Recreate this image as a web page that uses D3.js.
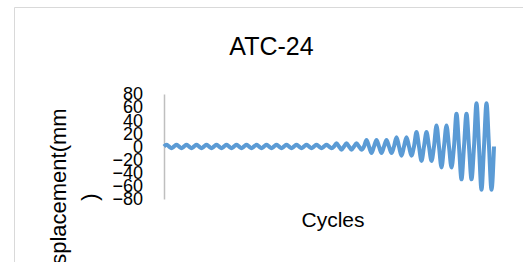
<!DOCTYPE html>
<meta charset="utf-8">
<head>
<style>
  body { margin: 0; background: #fff; }
  text { font-family: "Liberation Sans", Arial, sans-serif; fill: #000; }
</style>
</head>
<body>
<script src="https://d3js.org/d3.v7.min.js"></script>
<script>

// amplitude (mm) of each loading cycle
var cycleAmp = [2.5, 2.5, 2.5, 2.5, 2.5, 2.5, 2.5, 2.5, 2.5, 2.5, 2.5, 2.5, 2.5, 2.5, 2.5, 2.5, 2.5,
                5, 5, 5,
                10, 10, 10,
                14, 14,
                22, 22,
                32, 32,
                50, 50,
                66, 66];
var yTicks = [80, 60, 40, 20, 0, -20, -40, -60, -80];

var width = 523, height = 262;

var svg = d3.select("body").append("svg")
    .attr("width", width)
    .attr("height", height);

// chart area border (runs off the right and bottom)
svg.append("path")
    .attr("d", "M14.5," + height + "V7.5H" + width)
    .attr("fill", "none")
    .attr("stroke", "#d9d9d9")
    .attr("stroke-width", 1);

var x = d3.scaleLinear().domain([0, cycleAmp.length]).range([164, 494]);
var y = d3.scaleLinear().domain([-80, 80]).range([199, 94]);

// each cycle: zero, crest, zero, trough
var pts = [];
cycleAmp.forEach(function(a, i) {
  pts.push([i, 0], [i + 0.25, a], [i + 0.5, 0], [i + 0.75, -a]);
});
pts.push([cycleAmp.length, 0]);

var yAxis = d3.axisLeft(y).tickValues(yTicks).tickSize(0).tickPadding(21);

var gy = svg.append("g")
    .attr("transform", "translate(164,0)")
    .call(yAxis);
gy.select(".domain").attr("stroke", "#bfbfbf").attr("stroke-width", 1.5);
gy.selectAll("text")
    .style("font-family", "'Liberation Sans', Arial, sans-serif")
    .style("font-size", "18px")
    .attr("fill", "#000");

var line = d3.line()
    .x(function(d) { return x(d[0]); })
    .y(function(d) { return y(d[1]); })
    .curve(d3.curveMonotoneX);

svg.append("path")
    .datum(pts)
    .attr("d", line)
    .attr("fill", "none")
    .attr("stroke", "#5b9bd5")
    .attr("stroke-width", 4)
    .attr("stroke-linejoin", "round");

svg.append("text")
    .attr("x", 271.5)
    .attr("y", 55)
    .attr("text-anchor", "middle")
    .style("font-size", "25px")
    .text("ATC-24");

svg.append("text")
    .attr("x", 333)
    .attr("y", 227)
    .attr("text-anchor", "middle")
    .style("font-size", "21px")
    .text("Cycles");

// wrapped y title
svg.append("text")
    .attr("transform", "translate(66,197) rotate(-90)")
    .attr("text-anchor", "middle")
    .style("font-size", "22px")
    .text("Displacement(mm");
svg.append("text")
    .attr("transform", "translate(97,197) rotate(-90)")
    .attr("text-anchor", "middle")
    .style("font-size", "22px")
    .text(")");

</script>
</body>
